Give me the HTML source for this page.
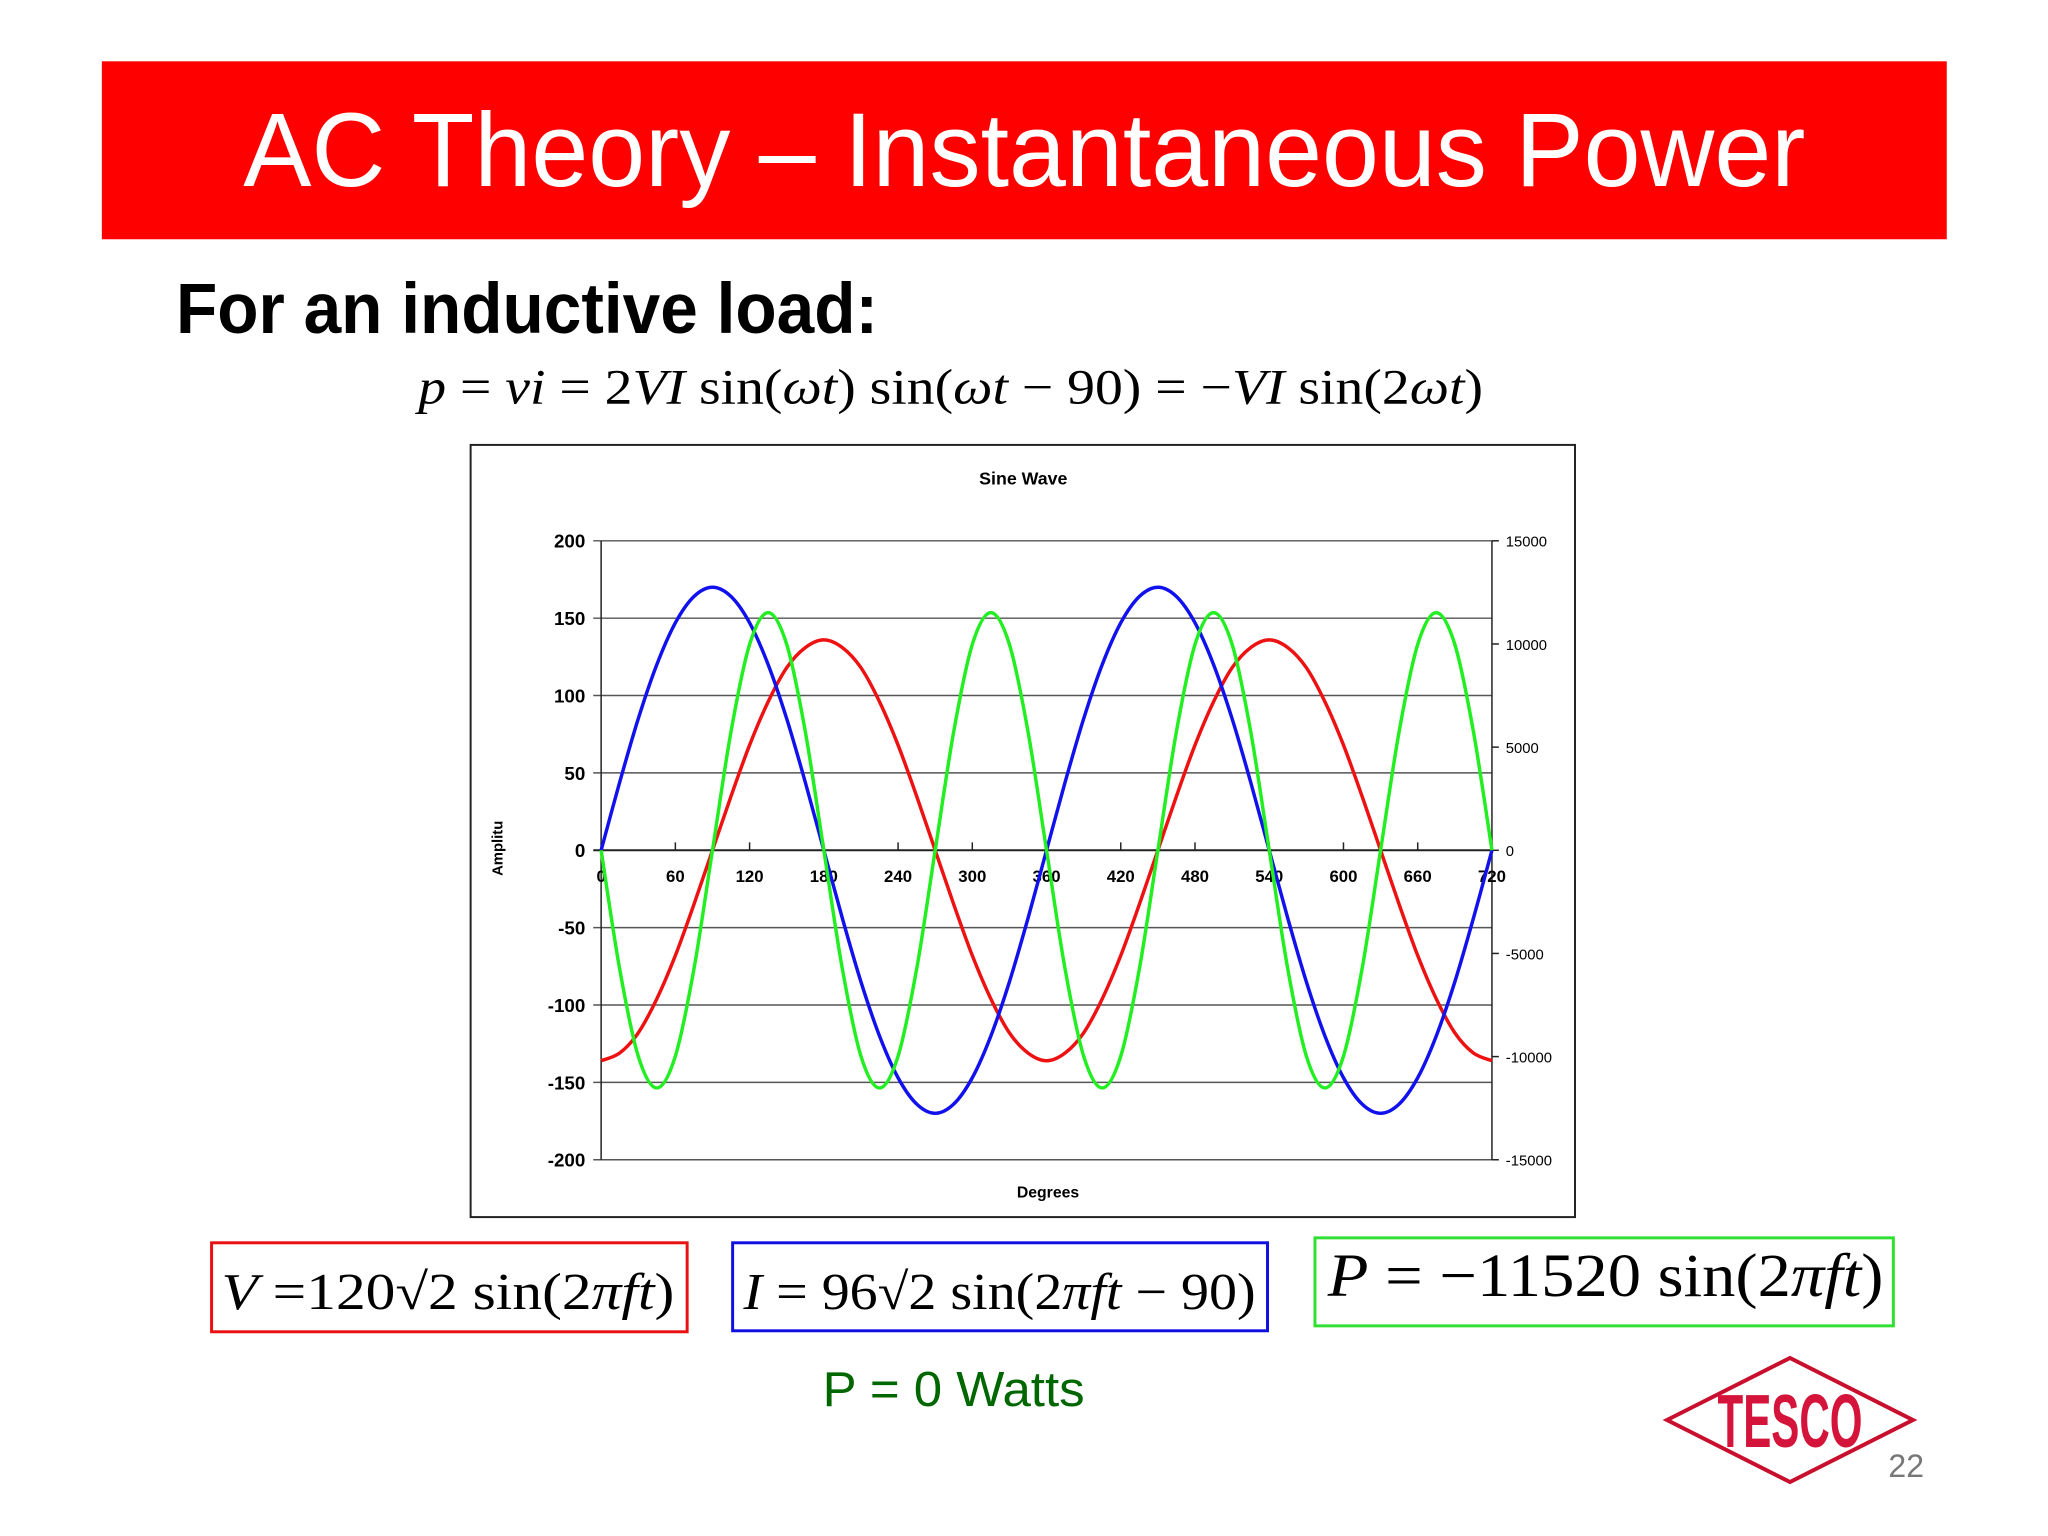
<!DOCTYPE html>
<html><head><meta charset="utf-8"><style>html,body{margin:0;padding:0;background:#fff}svg{display:block}</style></head>
<body>
<svg xmlns="http://www.w3.org/2000/svg" width="2048" height="1536" viewBox="0 0 2048 1536">
<g transform="scale(0.9887)">
<rect x="103" y="62" width="1866" height="180" fill="#ff0000"/>
<text x="1036" y="188" text-anchor="middle" font-family="Liberation Sans, sans-serif" font-size="106" fill="#fff" textLength="1580" lengthAdjust="spacingAndGlyphs">AC Theory – Instantaneous Power</text>
<text x="178" y="337" font-family="Liberation Sans, sans-serif" font-weight="bold" font-size="72" fill="#000" textLength="710" lengthAdjust="spacingAndGlyphs">For an inductive load:</text>
<text x="423" y="408" font-family="Liberation Serif, serif" font-size="50" fill="#000" textLength="1077" lengthAdjust="spacingAndGlyphs"><tspan font-style="italic">p</tspan> = <tspan font-style="italic">vi</tspan> = 2<tspan font-style="italic">VI</tspan> sin(<tspan font-style="italic">ωt</tspan>) sin(<tspan font-style="italic">ωt</tspan> − 90) = −<tspan font-style="italic">VI</tspan> sin(2<tspan font-style="italic">ωt</tspan>)</text>

<rect x="476" y="450" width="1117" height="781" fill="#fff" stroke="#222" stroke-width="2"/>
<text x="1035" y="490" text-anchor="middle" font-family="Liberation Sans, sans-serif" font-weight="bold" font-size="18">Sine Wave</text>
<text x="1060" y="1211" text-anchor="middle" font-family="Liberation Sans, sans-serif" font-weight="bold" font-size="16">Degrees</text>
<text transform="translate(508,858) rotate(-90)" text-anchor="middle" font-family="Liberation Sans, sans-serif" font-weight="bold" font-size="15">Amplitu</text>
<g id="chart"></g>

<rect x="214" y="1257" width="481" height="90" fill="none" stroke="#e81010" stroke-width="3"/>
<text x="224" y="1324" font-family="Liberation Serif, serif" font-size="52" textLength="458" lengthAdjust="spacingAndGlyphs"><tspan font-style="italic">V</tspan> =120√2 sin(2<tspan font-style="italic">πft</tspan>)</text>
<rect x="741" y="1257" width="541" height="89" fill="none" stroke="#1010e0" stroke-width="3"/>
<text x="752" y="1324" font-family="Liberation Serif, serif" font-size="52" textLength="518" lengthAdjust="spacingAndGlyphs"><tspan font-style="italic">I</tspan> = 96√2 sin(2<tspan font-style="italic">πft</tspan> − 90)</text>
<rect x="1330" y="1252" width="585" height="89" fill="none" stroke="#30e030" stroke-width="3"/>
<text x="1343" y="1311" font-family="Liberation Serif, serif" font-size="62" textLength="562" lengthAdjust="spacingAndGlyphs"><tspan font-style="italic">P</tspan> = −11520 sin(2<tspan font-style="italic">πft</tspan>)</text>
<text x="832" y="1422" font-family="Liberation Sans, sans-serif" font-size="50" fill="#006600" textLength="265" lengthAdjust="spacingAndGlyphs">P = 0 Watts</text>
</g>

<g>
<polygon points="1667,1420 1790,1358 1913,1420 1790,1482" fill="none" stroke="#c8102e" stroke-width="4"/>
<text transform="translate(1790,1447) scale(1,1.5)" text-anchor="middle" font-family="Liberation Sans Narrow, Liberation Sans, sans-serif" font-weight="bold" font-size="50" fill="#d4143a" textLength="145" lengthAdjust="spacingAndGlyphs">TESCO</text>
</g>
<text x="1924" y="1477" text-anchor="end" font-family="Liberation Sans, sans-serif" font-size="32" fill="#777">22</text>
</svg>
<script>
const degrees=[0,15,30,45,60,75,90,105,120,135,150,165,180,195,210,225,240,255,270,285,300,315,330,345,360,375,390,405,420,435,450,465,480,495,510,525,540,555,570,585,600,615,630,645,660,675,690,705,720];
const voltageBlue=[0,44,85,120,147,164,170,164,147,120,85,44,0,-44,-85,-120,-147,-164,-170,-164,-147,-120,-85,-44,0,44,85,120,147,164,170,164,147,120,85,44,0,-44,-85,-120,-147,-164,-170,-164,-147,-120,-85,-44,0];
const currentRed=[-136,-131,-118,-96,-68,-35,0,35,68,96,118,131,136,131,118,96,68,35,0,-35,-68,-96,-118,-131,-136,-131,-118,-96,-68,-35,0,35,68,96,118,131,136,131,118,96,68,35,0,-35,-68,-96,-118,-131,-136];
const powerGreen=[0,-5760,-9977,-11520,-9977,-5760,0,5760,9977,11520,9977,5760,0,-5760,-9977,-11520,-9977,-5760,0,5760,9977,11520,9977,5760,0,-5760,-9977,-11520,-9977,-5760,0,5760,9977,11520,9977,5760,0,-5760,-9977,-11520,-9977,-5760,0,5760,9977,11520,9977,5760,0];
const xTicks=[0,60,120,180,240,300,360,420,480,540,600,660,720];
const yTicks=[200,150,100,50,0,-50,-100,-150,-200];
const y2Ticks=[15000,10000,5000,0,-5000,-10000,-15000];
const NS='http://www.w3.org/2000/svg';
const X0=608,X1=1509,YT=547,YB=1173;
const xs=v=>X0+(v/720)*(X1-X0);
const ys=v=>YT+(200-v)/400*(YB-YT);
const ys2=v=>YT+(15000-v)/30000*(YB-YT);
const g=document.getElementById('chart');
function mk(tag,attrs){const e=document.createElementNS(NS,tag);for(const k in attrs)e.setAttribute(k,attrs[k]);g.appendChild(e);return e;}
yTicks.forEach(t=>{
  const l=mk('line',{x1:X0-8,x2:X1,y1:ys(t),y2:ys(t),stroke:t===0?'#222':'#555','stroke-width':t===0?2:1.5});
  
  
  const tx=mk('text',{x:X0-16,y:ys(t)+7,'text-anchor':'end','font-family':'Liberation Sans, sans-serif','font-weight':'bold','font-size':19});
  tx.textContent=t;
  
  
});
y2Ticks.forEach(t=>{
  const l=mk('line',{x1:X1,x2:X1+7,y1:ys2(t),y2:ys2(t),stroke:'#222','stroke-width':1.5});
  
  
  const tx=mk('text',{x:X1+14,y:ys2(t)+6,'font-family':'Liberation Sans, sans-serif','font-size':15});
  tx.textContent=t;
  
  
});
const la=mk('line',{x1:X0,x2:X0,y1:YT,y2:YB,stroke:'#222','stroke-width':1.5});


const ra=mk('line',{x1:X1,x2:X1,y1:YT,y2:YB,stroke:'#222','stroke-width':1.5});


xTicks.forEach(t=>{
  const l=mk('line',{x1:xs(t),x2:xs(t),y1:ys(0),y2:ys(0)-8,stroke:'#222','stroke-width':1.5});
  
  
  const tx=mk('text',{x:xs(t),y:ys(0)+32,'text-anchor':'middle','font-family':'Liberation Sans, sans-serif','font-weight':'bold','font-size':17});
  tx.textContent=t;
  
  
});
function pathFor(vals,scale){
  const p=degrees.map((d,i)=>[xs(d),scale(vals[i])]);
  let s='M'+p[0][0]+','+p[0][1];
  for(let i=0;i<p.length-1;i++){
    const a=p[Math.max(i-1,0)],b=p[i],c=p[i+1],d=p[Math.min(i+2,p.length-1)];
    const c1x=b[0]+(c[0]-a[0])/6,c1y=b[1]+(c[1]-a[1])/6,c2x=c[0]-(d[0]-b[0])/6,c2y=c[1]-(d[1]-b[1])/6;
    s+=' C'+c1x+','+c1y+' '+c2x+','+c2y+' '+c[0]+','+c[1];
  }
  return s;
}
const pr=mk('path',{d:pathFor(currentRed,ys),fill:'none',stroke:'#ee1111','stroke-width':3.5});


const pb=mk('path',{d:pathFor(voltageBlue,ys),fill:'none',stroke:'#1111ee','stroke-width':3.5});


const pg=mk('path',{d:pathFor(powerGreen,ys2),fill:'none',stroke:'#22ee22','stroke-width':3.5});


</script>
</body></html>
